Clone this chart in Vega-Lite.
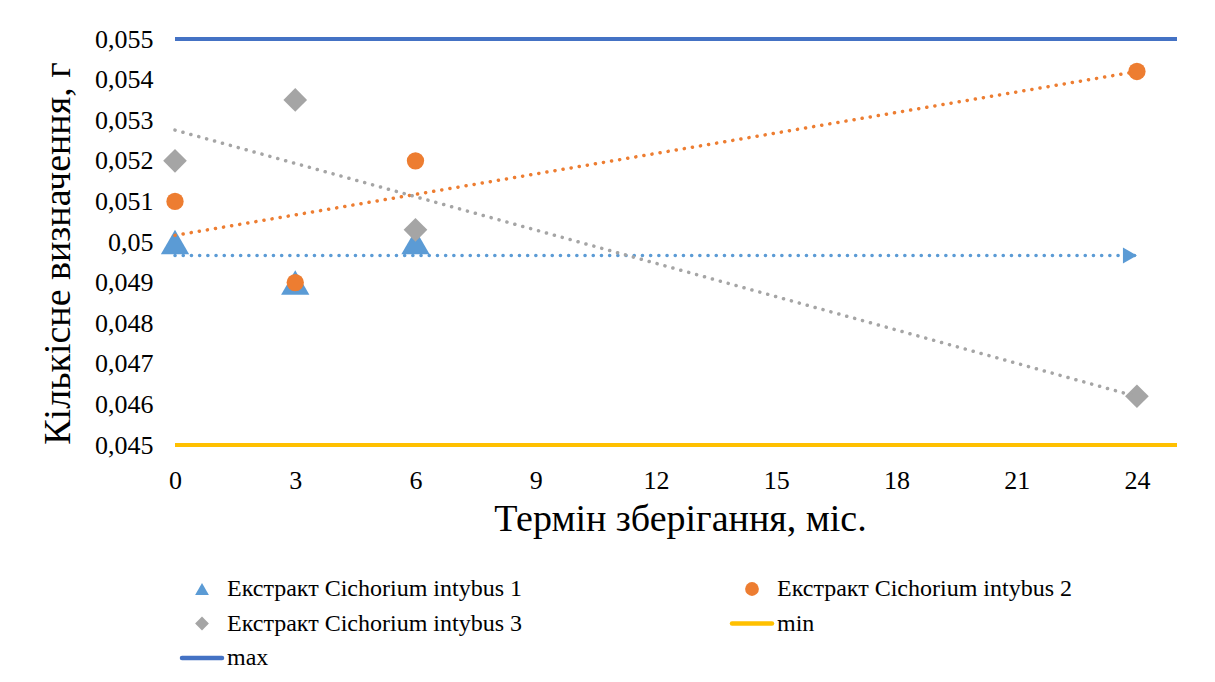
{
  "$schema": "https://vega.github.io/schema/vega-lite/v6.json",
  "width": 1002,
  "height": 406,
  "autosize": {"type": "none"},
  "padding": {"left": 175, "top": 39, "right": 38, "bottom": 237},
  "background": "white",
  "datasets": {
    "pts": [
      {"series": "Екстракт Cichorium intybus 1", "month": 0, "value": 0.05},
      {"series": "Екстракт Cichorium intybus 1", "month": 3, "value": 0.049},
      {"series": "Екстракт Cichorium intybus 1", "month": 6, "value": 0.05},
      {"series": "Екстракт Cichorium intybus 2", "month": 0, "value": 0.051},
      {"series": "Екстракт Cichorium intybus 2", "month": 3, "value": 0.049},
      {"series": "Екстракт Cichorium intybus 2", "month": 6, "value": 0.052},
      {"series": "Екстракт Cichorium intybus 2", "month": 24, "value": 0.0542},
      {"series": "Екстракт Cichorium intybus 3", "month": 0, "value": 0.052},
      {"series": "Екстракт Cichorium intybus 3", "month": 3, "value": 0.0535},
      {"series": "Екстракт Cichorium intybus 3", "month": 6, "value": 0.0503},
      {"series": "Екстракт Cichorium intybus 3", "month": 24, "value": 0.0462}
    ],
    "limits": [
      {"series": "min", "value": 0.045},
      {"series": "max", "value": 0.055}
    ]
  },
  "config": {
    "locale": {"number": {"decimal": ",", "thousands": " ", "grouping": [3], "currency": ["", " грн"]}},
    "view": {"stroke": null},
    "font": "Liberation Serif",
    "legend": {"labelFont": "Liberation Serif", "labelFontSize": 24, "labelColor": "#000000"},
    "axis": {
      "labelFont": "Liberation Serif", "labelFontSize": 26, "labelColor": "#000000",
      "titleFont": "Liberation Serif", "titleFontSize": 38, "titleFontWeight": "normal", "titleColor": "#000000",
      "domain": false, "ticks": false, "grid": false, "labelFlush": false
    }
  },
  "encoding": {
    "x": {"field": "month", "type": "quantitative", "scale": {"domain": [0, 25], "nice": false, "zero": false},
      "axis": {"title": "Термін зберігання, міс.", "values": [0, 3, 6, 9, 12, 15, 18, 21, 24], "format": "d", "labelPadding": 22,
        "titleBaseline": "alphabetic", "titleY": 85, "titleX": 505}},
    "y": {"field": "value", "type": "quantitative", "scale": {"domain": [0.045, 0.055], "nice": false, "zero": false},
      "axis": {"title": "Кількісне визначення, г", "values": [0.045, 0.046, 0.047, 0.048, 0.049, 0.05, 0.051, 0.052, 0.053, 0.054, 0.055], "format": ".3~f", "labelPadding": 22,
        "titleBaseline": "alphabetic", "titleX": -106, "titleY": 214, "titleAngle": -90}},
    "color": {"field": "series", "type": "nominal",
      "scale": {"domain": ["Екстракт Cichorium intybus 1", "Екстракт Cichorium intybus 2", "Екстракт Cichorium intybus 3", "min", "max"],
        "range": ["#5B9BD5", "#ED7D31", "#A5A5A5", "#FFC000", "#4472C4"]},
      "legend": {
        "title": null, "orient": "none", "direction": "horizontal", "legendX": 15, "legendY": 538, "columns": 2, "columnPadding": 201, "rowPadding": 10.5,
        "labelFont": "Liberation Serif", "labelFontSize": 24, "labelColor": "#000000", "labelLimit": 600, "labelOffset": 13,
        "symbolSize": 1600, "symbolStrokeWidth": 0, "symbolType": "circle",
        "encode": {
          "labels": {"update": {"font": {"value": "Liberation Serif"}, "fontSize": {"value": 24}}},
          "symbols": {"update": {
          "shape": {"signal": "datum.value == 'Екстракт Cichorium intybus 1' ? 'triangle-up' : datum.value == 'Екстракт Cichorium intybus 2' ? 'circle' : datum.value == 'Екстракт Cichorium intybus 3' ? 'diamond' : 'stroke'"},
          "size": {"signal": "indexof(['min','max'], datum.value) >= 0 ? 1600 : 190"},
          "fill": {"scale": "color", "field": "value"},
          "stroke": {"scale": "color", "field": "value"},
          "strokeWidth": {"signal": "indexof(['min','max'], datum.value) >= 0 ? 4.5 : 0"},
          "strokeCap": {"value": "round"},
          "strokeDash": {"value": []},
          "opacity": {"value": 1}
        }}}
      }}
  },
  "layer": [
    {
      "data": {"name": "limits"},
      "mark": {"type": "rule", "strokeWidth": 4},
      "encoding": {
        "x": null
      }
    },
    {
      "data": {"name": "pts"},
      "mark": {"type": "point", "filled": true, "opacity": 1, "strokeWidth": 0,
        "shape": {"expr": "datum.series == 'Екстракт Cichorium intybus 1' ? 'triangle-up' : datum.series == 'Екстракт Cichorium intybus 2' ? 'circle' : 'diamond'"},
        "size": {"expr": "datum.series == 'Екстракт Cichorium intybus 1' ? 800 : datum.series == 'Екстракт Cichorium intybus 2' ? 300 : 560"}},
      "encoding": {}
    },
    {
      "data": {"name": "pts"},
      "transform": [{"regression": "value", "on": "month", "groupby": ["series"], "extent": [0, 24]}],
      "mark": {"type": "line", "strokeWidth": 3.5, "strokeDash": [0.1, 8.1], "strokeCap": "round", "opacity": 1},
      "encoding": {}
    },
    {
      "data": {"name": "pts"},
      "transform": [
        {"regression": "value", "on": "month", "groupby": ["series"], "extent": [0, 24]},
        {"filter": "datum.series == 'Екстракт Cichorium intybus 1' && datum.month > 23"}
      ],
      "mark": {"type": "point", "shape": "triangle-right", "filled": true, "opacity": 1, "size": 260, "xOffset": -7, "strokeWidth": 0},
      "encoding": {}
    }
  ]
}
